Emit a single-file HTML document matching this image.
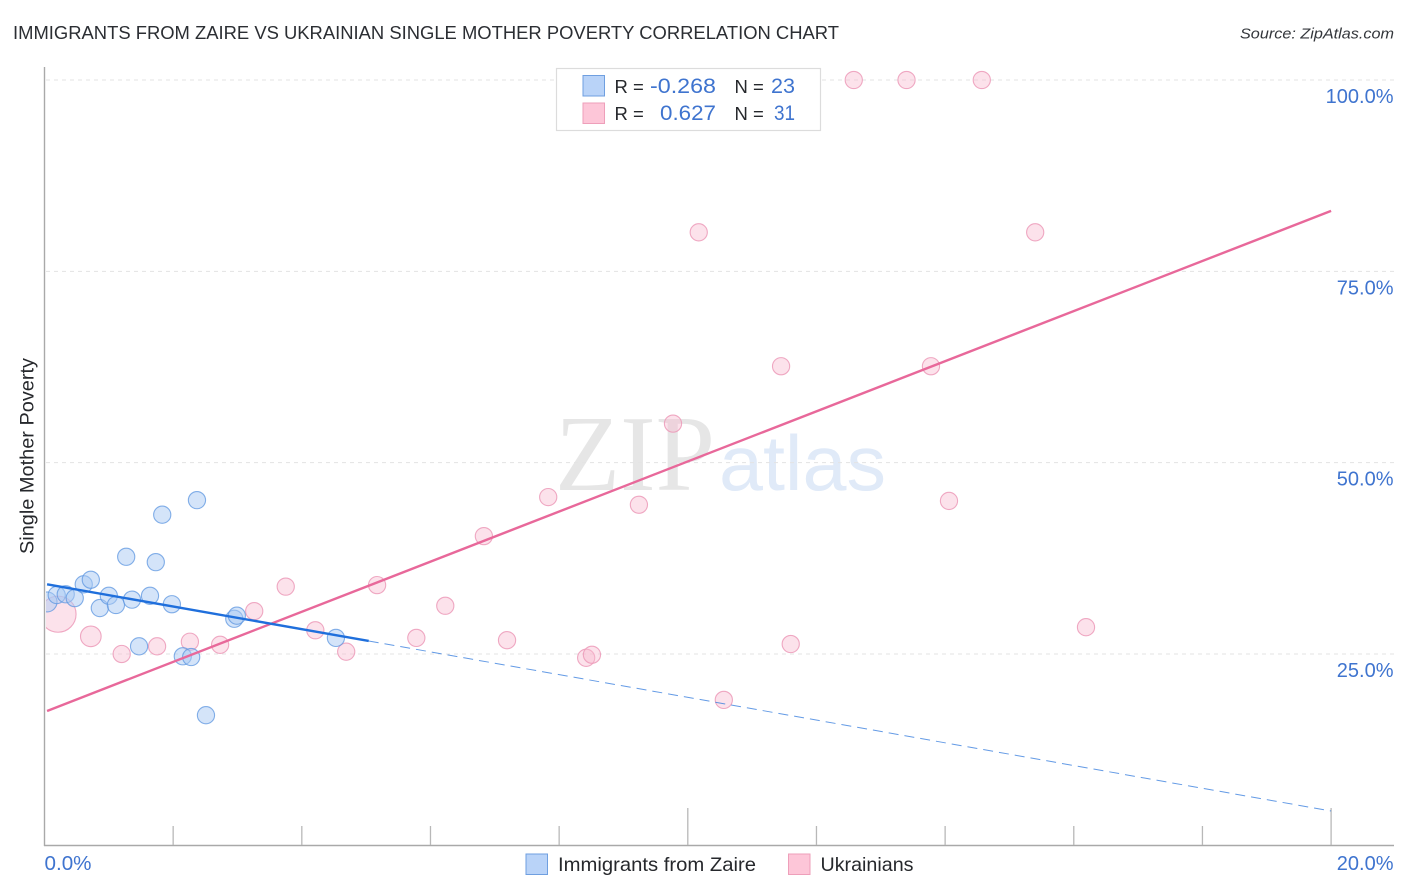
<!DOCTYPE html>
<html lang="en">
<head>
<meta charset="utf-8">
<title>Immigrants from Zaire vs Ukrainian Single Mother Poverty Correlation Chart</title>
<style>
html,body{margin:0;padding:0;background:#fff;}
body{width:1406px;height:892px;overflow:hidden;}
svg{display:block;font-family:"Liberation Sans",sans-serif;}
</style>
</head>
<body>
<svg id="chart" width="1406" height="892" viewBox="0 0 1406 892" xmlns="http://www.w3.org/2000/svg">
  <defs><clipPath id="plot-clip"><rect x="46" y="60" width="1350" height="786"></rect></clipPath></defs>
  <rect x="0" y="0" width="1406" height="892" fill="#ffffff"></rect>
  <text x="13" y="39" font-size="18.5" fill="#2b2e33" textLength="826" lengthAdjust="spacingAndGlyphs">IMMIGRANTS FROM ZAIRE VS UKRAINIAN SINGLE MOTHER POVERTY CORRELATION CHART</text>
  <text x="1240" y="38.5" font-size="15" font-style="italic" fill="#33363b" textLength="154" lengthAdjust="spacingAndGlyphs">Source: ZipAtlas.com</text>
  <g>
    <text x="555" y="490" font-family="'Liberation Serif',serif" font-size="108" fill="#e6e6e6" textLength="160" lengthAdjust="spacingAndGlyphs">ZIP</text>
    <text x="719" y="490" font-size="78" fill="#e0eaf8" textLength="167" lengthAdjust="spacingAndGlyphs">atlas</text>
  </g>
  <g id="grid"></g>
  <g id="axes"></g>
  <g id="marks" clip-path="url(#plot-clip)"></g>
  <g id="trends"></g>
  <text transform="translate(33.5,456) rotate(-90)" text-anchor="middle" font-size="19.5" fill="#26282c" textLength="196" lengthAdjust="spacingAndGlyphs">Single Mother Poverty</text>

  <g>
    <rect x="556.5" y="68.5" width="264" height="62" fill="#ffffff" stroke="#dcdcdc" stroke-width="1.2"></rect>
    <rect x="583" y="75.5" width="21.5" height="20.5" fill="#b9d3f8" stroke="#6f9fe0" stroke-width="1"></rect>
    <rect x="583" y="103" width="21.5" height="20.5" fill="#fdc6d8" stroke="#ee9fba" stroke-width="1"></rect>
    <text x="614.5" y="93" font-size="18.5" fill="#26282c">R =</text>
    <text x="716" y="93" font-size="21" fill="#3f74cf" text-anchor="end" textLength="66" lengthAdjust="spacingAndGlyphs">-0.268</text>
    <text x="734.5" y="93" font-size="18.5" fill="#26282c">N =</text>
    <text x="795" y="93" font-size="21" fill="#3f74cf" text-anchor="end" textLength="24" lengthAdjust="spacingAndGlyphs">23</text>
    <text x="614.5" y="120" font-size="18.5" fill="#26282c">R =</text>
    <text x="716" y="120" font-size="21" fill="#3f74cf" text-anchor="end" textLength="56" lengthAdjust="spacingAndGlyphs">0.627</text>
    <text x="734.5" y="120" font-size="18.5" fill="#26282c">N =</text>
    <text x="795" y="120" font-size="21" fill="#3f74cf" text-anchor="end" textLength="21" lengthAdjust="spacingAndGlyphs">31</text>
  </g>

  <g>
    <rect x="526" y="854" width="21.5" height="20.5" fill="#b9d3f8" stroke="#6f9fe0" stroke-width="1"></rect>
    <text x="558" y="871" font-size="19.5" fill="#26282c" textLength="198" lengthAdjust="spacingAndGlyphs">Immigrants from Zaire</text>
    <rect x="788.5" y="854" width="21.5" height="20.5" fill="#fdc6d8" stroke="#ee9fba" stroke-width="1"></rect>
    <text x="820.5" y="871" font-size="19.5" fill="#26282c" textLength="93" lengthAdjust="spacingAndGlyphs">Ukrainians</text>
  </g>
</svg>
<script>
var xTickValues = [0, 2, 4, 6, 8, 10, 12, 14, 16, 18, 20];
var xMajorTicks = [10, 20];
var xEdgeLabels = ['0.0%', '20.0%'];
var yTickValues = [25, 50, 75, 100];
var yTickLabels = ['25.0%', '50.0%', '75.0%', '100.0%'];

var zaireX = [0.04, 0.19, 0.33, 0.47, 0.61, 0.72, 0.86, 1.00, 1.11, 1.36, 1.27, 1.64, 1.73, 1.98, 1.47, 2.15, 2.28, 1.83, 2.37, 2.51, 2.95, 2.99, 4.53];
var zaireY = [31.8, 32.7, 32.8, 32.3, 34.1, 34.7, 31.0, 32.6, 31.4, 32.1, 37.7, 32.6, 37.0, 31.5, 26.0, 24.7, 24.6, 43.2, 45.1, 17.0, 29.6, 30.0, 27.1];
var zaireWeights = [1.16];
var ukrainianX = [0.21, 0.72, 1.20, 1.75, 2.26, 2.73, 3.26, 3.75, 4.21, 4.69, 5.17, 5.78, 6.23, 6.83, 7.19, 7.83, 8.42, 8.51, 9.24, 9.77, 10.56, 11.60, 11.45, 13.78, 14.06, 16.19, 10.17, 15.40, 12.58, 13.40, 14.57];
var ukrainianY = [30.2, 27.3, 25.0, 26.0, 26.6, 26.2, 30.6, 33.8, 28.1, 25.3, 34.0, 27.1, 31.3, 40.4, 26.8, 45.5, 24.5, 24.9, 44.5, 55.1, 19.0, 26.3, 62.6, 62.6, 45.0, 28.5, 80.1, 80.1, 100, 100, 100];
var ukrainianWeights = [2.1, 1.2];

var zaireTrendX = [0.04, 5.04, 20];
var zaireTrendY = [34.1, 26.7, 4.48];
var ukrainianTrendX = [0.04, 20];
var ukrainianTrendY = [17.55, 82.9];

var SVG_NS = 'http://www.w3.org/2000/svg';
function xScale(v) { return 44.5 + v * 64.33; }
function yScale(v) { return 845.3 - v * 7.653; }
function rScale(w) { return 8.6 * w; }
function make(parent, tag, attrs, text) {
  var el = document.createElementNS(SVG_NS, tag);
  for (var k in attrs) { el.setAttribute(k, attrs[k]); }
  if (text) { el.textContent = text; }
  parent.appendChild(el);
  return el;
}
var gridG = document.getElementById('grid');
var axesG = document.getElementById('axes');
var marksG = document.getElementById('marks');
var trendsG = document.getElementById('trends');

yTickValues.forEach(function (v, i) {
  var line = make(gridG, 'line', {x1: 46, x2: 1394, y1: yScale(v), y2: yScale(v), stroke: '#e3e3e3', 'stroke-width': 1, 'stroke-dasharray': '4 4'});
  
  
  var label = make(axesG, 'text', {x: 1393.5, y: yScale(v) + 23, 'text-anchor': 'end', 'font-size': 20, fill: '#3f74cf'}, yTickLabels[i]);
  
  
});

var yAxis = make(axesG, 'line', {x1: 44.5, x2: 44.5, y1: 67, y2: 846, stroke: '#a9a9a9', 'stroke-width': 1.4});


var xAxis = make(axesG, 'line', {x1: 44, x2: 1394, y1: 845.5, y2: 845.5, stroke: '#a9a9a9', 'stroke-width': 1.4});



xTickValues.forEach(function (v) {
  if (v === 0) { return; }
  var top = xMajorTicks.indexOf(v) >= 0 ? 808 : 826;
  var tick = make(axesG, 'line', {x1: xScale(v), x2: xScale(v), y1: top, y2: 845, stroke: '#b8b8b8', 'stroke-width': 1.3});
  
  
});

var xLabelLeft = make(axesG, 'text', {x: 44.5, y: 870, 'font-size': 20, fill: '#3f74cf', textLength: 47, lengthAdjust: 'spacingAndGlyphs'}, xEdgeLabels[0]);


var xLabelRight = make(axesG, 'text', {x: 1393.5, y: 870, 'text-anchor': 'end', 'font-size': 20, fill: '#3f74cf'}, xEdgeLabels[1]);



ukrainianX.forEach(function (v, i) {
  var c = make(marksG, 'circle', {cx: xScale(v), cy: yScale(ukrainianY[i]), r: rScale(ukrainianWeights[i] || 1), fill: '#f9b9cf', 'fill-opacity': 0.42, stroke: '#ec9ab8', 'stroke-opacity': 0.85, 'stroke-width': 1.1});
  
  
});
zaireX.forEach(function (v, i) {
  var c = make(marksG, 'circle', {cx: xScale(v), cy: yScale(zaireY[i]), r: rScale(zaireWeights[i] || 1), fill: '#a9c9f3', 'fill-opacity': 0.5, stroke: '#5c95e0', 'stroke-opacity': 0.75, 'stroke-width': 1.1});
  
  
});

var pinkLine = make(trendsG, 'line', {x1: xScale(ukrainianTrendX[0]), y1: yScale(ukrainianTrendY[0]), x2: xScale(ukrainianTrendX[1]), y2: yScale(ukrainianTrendY[1]), stroke: '#e8689a', 'stroke-width': 2.4});


var blueLine = make(trendsG, 'line', {x1: xScale(zaireTrendX[0]), y1: yScale(zaireTrendY[0]), x2: xScale(zaireTrendX[1]), y2: yScale(zaireTrendY[1]), stroke: '#1f6fdc', 'stroke-width': 2.4});


var blueDash = make(trendsG, 'line', {x1: xScale(zaireTrendX[1]), y1: yScale(zaireTrendY[1]), x2: xScale(zaireTrendX[2]), y2: yScale(zaireTrendY[2]), stroke: '#2f78dc', 'stroke-opacity': 0.75, 'stroke-width': 1, 'stroke-dasharray': '10 6'});


</script>
</body>
</html>
